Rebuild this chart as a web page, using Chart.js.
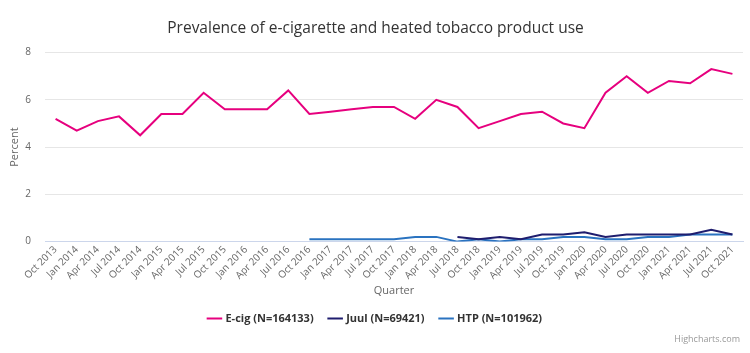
<!DOCTYPE html>
<html>
<head>
<meta charset="utf-8">
<script src="https://cdn.jsdelivr.net/npm/chart.js@4/dist/chart.umd.min.js"></script>
<style>
  html, body { margin: 0; padding: 0; background: #fff; }
  #wrap { position: relative; width: 750px; height: 353px; }
  #credits {
    position: absolute; right: 10px; bottom: 8px;
    font: 9px "Open Sans", sans-serif; color: #999;
  }
</style>
</head>
<body>
<div id="wrap">
  <canvas id="trendChart" width="750" height="353"></canvas>
  <div id="credits">Highcharts.com</div>
</div>
<script>
const QUARTERS = [
  "Oct 2013", "Jan 2014", "Apr 2014", "Jul 2014", "Oct 2014", "Jan 2015", "Apr 2015",
  "Jul 2015", "Oct 2015", "Jan 2016", "Apr 2016", "Jul 2016", "Oct 2016", "Jan 2017",
  "Apr 2017", "Jul 2017", "Oct 2017", "Jan 2018", "Apr 2018", "Jul 2018", "Oct 2018",
  "Jan 2019", "Apr 2019", "Jul 2019", "Oct 2019", "Jan 2020", "Apr 2020", "Jul 2020",
  "Oct 2020", "Jan 2021", "Apr 2021", "Jul 2021", "Oct 2021"
];

const ECIG = [
  5.2, 4.7, 5.1, 5.3, 4.5, 5.4, 5.4, 6.3, 5.6, 5.6, 5.6, 6.4, 5.4, 5.5, 5.6, 5.7, 5.7,
  5.2, 6.0, 5.7, 4.8, 5.1, 5.4, 5.5, 5.0, 4.8, 6.3, 7.0, 6.3, 6.8, 6.7, 7.3, 7.1
];

const JUUL = [
  null, null, null, null, null, null, null, null, null, null, null, null, null, null,
  null, null, null, null, null, 0.2, 0.1, 0.2, 0.1, 0.3, 0.3, 0.4, 0.2, 0.3, 0.3, 0.3,
  0.3, 0.5, 0.3
];

const HTP = [
  null, null, null, null, null, null, null, null, null, null, null, null, 0.1, 0.1,
  0.1, 0.1, 0.1, 0.2, 0.2, 0.0, 0.1, 0.0, 0.1, 0.1, 0.2, 0.2, 0.1, 0.1, 0.2, 0.2,
  0.3, 0.3, 0.3
];

const Y_TICKS = [0, 2, 4, 6, 8];

const FONT = '"Open Sans", "DejaVu Sans", sans-serif';

function series(label, data, color) {
  return {
    label: label,
    data: data,
    borderColor: color,
    backgroundColor: color,
    borderWidth: 2,
    pointRadius: 0,
    pointHoverRadius: 0,
    tension: 0,
    fill: false,
    spanGaps: false
  };
}

const ctx = document.getElementById('trendChart').getContext('2d');

new Chart(ctx, {
  type: 'line',
  data: {
    labels: QUARTERS,
    datasets: [
      series('E-cig (N=164133)', ECIG, '#e6007e'),
      series('Juul (N=69421)', JUUL, '#1f1d6e'),
      series('HTP (N=101962)', HTP, '#2a73c0')
    ]
  },
  options: {
    responsive: false,
    animation: false,
    layout: { padding: { left: 8, right: 7, top: 15, bottom: 19 } },
    plugins: {
      title: {
        display: true,
        text: 'Prevalence of e-cigarette and heated tobacco product use',
        color: '#333',
        font: { family: FONT, size: 15.5, weight: 'normal' },
        padding: { top: 4, bottom: 15 }
      },
      legend: {
        position: 'bottom',
        labels: {
          usePointStyle: true,
          pointStyle: 'line',
          boxWidth: 14,
          color: '#333',
          font: { family: FONT, size: 11, weight: 'bold' },
          padding: 16
        }
      },
      tooltip: { enabled: false }
    },
    scales: {
      x: {
        offset: true,
        // rotated labels may hang past the plot edges, as in the original
        afterFit: s => { s.paddingLeft = 0; s.paddingRight = 0; },
        grid: { display: false, drawTicks: false },
        border: { color: '#ccd6eb', width: 1 },
        ticks: {
          color: '#666',
          font: { family: FONT, size: 10 },
          minRotation: 45,
          maxRotation: 45,
          autoSkip: false,
          padding: 2
        },
        title: {
          display: true,
          text: 'Quarter',
          color: '#666',
          font: { family: FONT, size: 11 },
          padding: { top: 0, bottom: 0 }
        }
      },
      y: {
        min: 0,
        max: 8,
        afterFit: s => { s.width = 37; },
        afterBuildTicks: axis => { axis.ticks = Y_TICKS.map(v => ({ value: v })); },
        grid: { color: '#e6e6e6', drawTicks: false },
        border: { display: false },
        ticks: {
          color: '#666',
          font: { family: FONT, size: 10 },
          padding: 14
        },
        title: {
          display: true,
          text: 'Percent',
          color: '#666',
          font: { family: FONT, size: 11 },
          padding: { top: 0, bottom: 4 }
        }
      }
    }
  }
});
</script>
</body>
</html>
